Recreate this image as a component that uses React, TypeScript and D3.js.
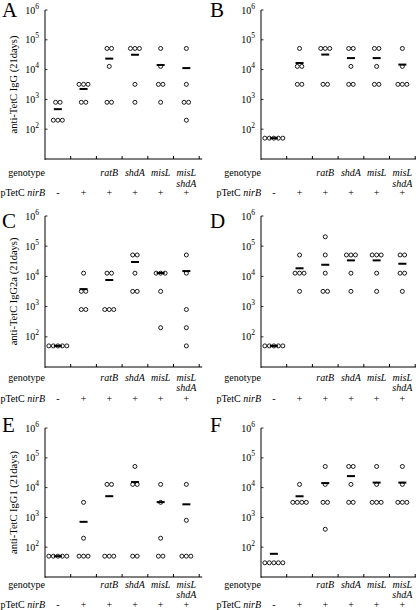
import React from "react";
import * as d3 from "d3";

// ---------- data ----------
const groupNames = ["", "", "ratB", "shdA", "misL", "misL shdA"];
const plasmidMarks = ["-", "+", "+", "+", "+", "+"];
const tickExponents = [2, 3, 4, 5, 6];
const panelLetters = ["A", "B", "C", "D", "E", "F"];
const yTitles = [
  "anti-TetC IgG (21days)",
  "anti-TetC IgG (boost)",
  "anti-TetC IgG2a (21days)",
  "anti-TetC IgG2a (boost)",
  "anti-TetC IgG1 (21days)",
  "anti-TetC IgG1 (boost)",
];

const valuesA = [
  [800, 800, 200, 200, 200],
  [3200, 3200, 3200, 800, 800],
  [51200, 51200, 12800, 800, 800],
  [51200, 51200, 51200, 3200, 800],
  [51200, 12800, 3200, 3200, 800],
  [51200, 3200, 800, 800, 200],
];
const meansA = [470, 2240, 23360, 31520, 14240, 11240];

const valuesB = [
  [50, 50, 50, 50, 50],
  [51200, 12800, 12800, 3200, 3200],
  [51200, 51200, 51200, 3200, 3200],
  [51200, 51200, 12800, 3200, 3200],
  [51200, 51200, 12800, 3200, 3200],
  [51200, 12800, 3200, 3200, 3200],
];
const meansB = [50, 16640, 32000, 24320, 24320, 14720];

const valuesC = [
  [50, 50, 50, 50, 50],
  [12800, 3200, 3200, 800, 800],
  [12800, 12800, 800, 800, 800],
  [51200, 51200, 12800, 3200, 3200],
  [12800, 12800, 12800, 3200, 200],
  [51200, 12800, 800, 200, 50],
];
const meansC = [50, 3800, 7600, 30000, 13000, 15000];

const valuesD = [
  [50, 50, 50, 50, 50],
  [51200, 12800, 12800, 12800, 3200],
  [204800, 51200, 12800, 3200, 3200],
  [51200, 51200, 51200, 12800, 3200],
  [51200, 51200, 51200, 12800, 3200],
  [51200, 51200, 12800, 12800, 3200],
];
const meansD = [50, 18560, 24300, 33920, 33920, 26240];

const valuesE = [
  [50, 50, 50, 50, 50],
  [3200, 200, 50, 50, 50],
  [12800, 12800, 50, 50, 50],
  [51200, 12800, 12800, 50, 50],
  [12800, 3200, 200, 50, 50],
  [12800, 800, 50, 50, 50],
];
const meansE = [50, 710, 5150, 15380, 3260, 2750];

const valuesF = [
  [30, 30, 30, 30, 30],
  [12800, 3200, 3200, 3200, 3200],
  [51200, 12800, 3200, 3200, 400],
  [51200, 51200, 12800, 3200, 3200],
  [51200, 12800, 3200, 3200, 3200],
  [51200, 12800, 3200, 3200, 3200],
];
const meansF = [60, 5120, 14160, 24320, 14720, 14720];

const panelValues = [valuesA, valuesB, valuesC, valuesD, valuesE, valuesF];
const panelMeans = [meansA, meansB, meansC, meansD, meansE, meansF];

// ---------- layout ----------
const W = 416;
const H = 610;
const colX = [45, 261];
const plotW = 154.2;
const rows = [
  { top: 10, bottom: 159, letter: 17, geno: 176, geno2: 186.5, plas: 196 },
  { top: 216, bottom: 367, letter: 228, geno: 381, geno2: 391, plas: 402 },
  { top: 428, bottom: 577, letter: 432, geno: 588, geno2: 598, plas: 607.5 },
];
const FONT = "'Liberation Serif', 'Times New Roman', serif";
const DOT_SPACING = 4.5;

function Panel({ idx }: { idx: number }) {
  const col = idx % 2;
  const row = rows[Math.floor(idx / 2)];
  const x0 = colX[col];
  const colLeft = col === 0 ? 0 : 208;
  const x = d3
    .scaleBand<number>()
    .domain(d3.range(groupNames.length))
    .range([x0, x0 + plotW])
    .padding(0);
  const y = d3.scaleLog().domain([10, 1e6]).range([row.bottom, row.top]);
  const bw = x.bandwidth();
  const values = panelValues[idx];
  const means = panelMeans[idx];

  const dots: { cx: number; cy: number; key: string }[] = [];
  values.forEach((vals, g) => {
    const cx0 = (x(g) as number) + bw / 2;
    const counts = d3.rollups(vals, (v) => v.length, (d) => d);
    counts.forEach(([v, n]) => {
      for (let i = 0; i < n; i++) {
        dots.push({
          cx: cx0 + (i - (n - 1) / 2) * DOT_SPACING,
          cy: y(v),
          key: `${g}-${v}-${i}`,
        });
      }
    });
  });

  const yMid = (row.top + row.bottom) / 2;
  const titleX = colLeft + (col === 0 ? 17 : 236);

  return (
    <g fontFamily={FONT} fill="#000">
      <text x={colLeft + 2} y={row.letter} fontSize={21}>
        {panelLetters[idx]}
      </text>
      <text
        transform={`translate(${titleX},${yMid}) rotate(-90)`}
        textAnchor="middle"
        fontSize={10.5}
      >
        {yTitles[idx]}
      </text>
      {/* y axis */}
      <line x1={x0} x2={x0} y1={y(1e6)} y2={row.bottom + 1} stroke="#000" strokeWidth={1} />
      {tickExponents.map((e) => (
        <line
          key={`t${e}`}
          x1={x0}
          x2={x0 + 2.5}
          y1={y(Math.pow(10, e))}
          y2={y(Math.pow(10, e))}
          stroke="#000"
          strokeWidth={0.8}
        />
      ))}
      {tickExponents.map((e) => (
        <text key={e} x={x0 - 6} y={y(Math.pow(10, e)) + 3.5} textAnchor="end" fontSize={10}>
          10
          <tspan fontSize={7.5} dy={-5}>
            {e}
          </tspan>
        </text>
      ))}
      {/* x axis */}
      <line x1={x0} x2={x0 + plotW + 3} y1={row.bottom} y2={row.bottom} stroke="#000" strokeWidth={1} />
      {d3.range(1, groupNames.length + 1).map((i) => {
        const tx = x0 + i * bw;
        return <line key={i} x1={tx} x2={tx} y1={row.bottom} y2={row.bottom - 3} stroke="#000" strokeWidth={1} />;
      })}
      {/* dots */}
      {dots.map((d) => (
        <circle key={d.key} cx={d.cx} cy={d.cy} r={2} fill="#fff" stroke="#000" strokeWidth={0.9} />
      ))}
      {/* means */}
      {means.map((m, g) => (
        <rect
          key={g}
          x={(x(g) as number) + bw / 2 - 4}
          y={y(m) - 1}
          width={8}
          height={2}
          fill="#000"
        />
      ))}
      {/* row labels */}
      <text x={x0} y={row.geno} textAnchor="end" fontSize={10}>
        genotype
      </text>
      <text x={x0} y={row.plas} textAnchor="end" fontSize={10}>
        pTetC <tspan fontStyle="italic">nirB</tspan>
      </text>
      {groupNames.map((name, g) => {
        const cx = (x(g) as number) + bw / 2;
        const parts = name.split(" ").filter((s) => s.length > 0);
        return parts.map((p, k) => (
          <text
            key={`${g}-${k}`}
            x={cx}
            y={k === 0 ? row.geno : row.geno2}
            textAnchor="middle"
            fontSize={10}
            fontStyle="italic"
          >
            {p}
          </text>
        ));
      })}
      {plasmidMarks.map((m, g) => (
        <text
          key={g}
          x={(x(g) as number) + bw / 2}
          y={row.plas}
          textAnchor="middle"
          fontSize={10}
        >
          {m}
        </text>
      ))}
    </g>
  );
}

export default function App() {
  return (
    <svg
      width={W}
      height={H}
      viewBox={`0 0 ${W} ${H}`}
      style={{ position: "absolute", left: 0, top: 0, background: "#fff" }}
    >
      <rect x={0} y={0} width={W} height={H} fill="#fff" />
      {d3.range(6).map((i) => (
        <Panel key={i} idx={i} />
      ))}
    </svg>
  );
}
